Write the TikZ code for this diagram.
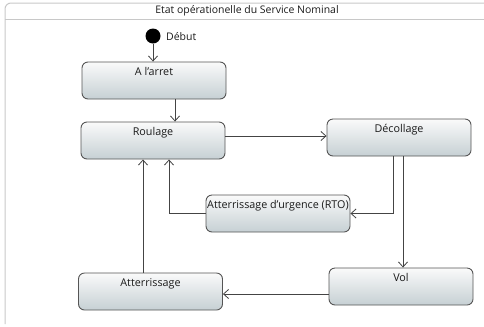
\documentclass[tikz,border=0pt]{standalone}
\usepackage{fontspec}
\setmainfont{Open Sans}
\usetikzlibrary{arrows.meta,calc}
\definecolor{framegray}{HTML}{C8C8C8}
\definecolor{boxborder}{HTML}{555555}
\definecolor{linegray}{HTML}{444444}
\definecolor{txt}{HTML}{1A1A1A}
\tikzset{
  statebox/.style={draw=boxborder, line width=0.9bp, rounded corners=6bp,
    top color=white!96!gray, bottom color={rgb,255:red,198;green,208;blue,212},
    minimum width=144bp, inner xsep=0bp, inner ysep=2bp,
    text height=11bp, text depth=22bp, font=\fontsize{10.8}{12}\selectfont, text=txt},
  trans/.style={draw=linegray, line width=0.8bp, -{Straight Barb[length=5bp,width=9bp,line width=0.8bp]}},
  titletext/.style={font=\fontsize{10.5}{12}\selectfont, text=txt, inner sep=0pt}
}
\begin{document}
\begin{tikzpicture}[x=1bp,y=-1bp]
\useasboundingbox (0,0) rectangle (484,326);
% frame
\draw[framegray, line width=1bp, rounded corners=6bp] (5,324) -- (5,3) -- (490,3);
\draw[framegray, line width=1bp] (5,19.5) -- (484,19.5);
\node[titletext] (title) at (247,11) {Etat opérationelle du Service Nominal};
% start
\node[circle, fill=black, minimum size=15bp, inner sep=0pt] (start) at (153,36) {};
\node[titletext, anchor=west] (debut) at (166,36.5) {Début};
% states
\node[statebox] (arret) at (154,80.5) {A l'arret};
\node[statebox] (roulage) at (153,140.5) {Roulage};
\node[statebox] (decollage) at (399,137.5) {Décollage};
\node[statebox] (rto) at (278,213.5) {Atterrissage d'urgence (RTO)};
\node[statebox] (vol) at (401,286.5) {Vol};
\node[statebox] (atter) at (150.5,291.5) {Atterrissage};
% transitions
\draw[trans] (start) -- (start |- arret.north);
\draw[trans] ([xshift=21bp]arret.south) -- ([xshift=21bp]arret.south |- roulage.north);
\draw[trans] ([yshift=4.5bp]roulage.east) -- ([yshift=4.5bp]roulage.east -| decollage.west);
\draw[trans] ([xshift=-6bp]decollage.south) |- (rto.east);
\draw[trans] ([xshift=4bp]decollage.south) -- ([xshift=4bp]decollage.south |- vol.north);
\draw[trans] (rto.west) -| ([xshift=16bp]roulage.south);
\draw[trans] ([xshift=-7.5bp]atter.north) -- ([xshift=-7.5bp]atter.north |- roulage.south);
\draw[trans] ([yshift=-7.5bp]vol.west) -- ([yshift=-7.5bp]vol.west -| atter.east);
\end{tikzpicture}
\end{document}
